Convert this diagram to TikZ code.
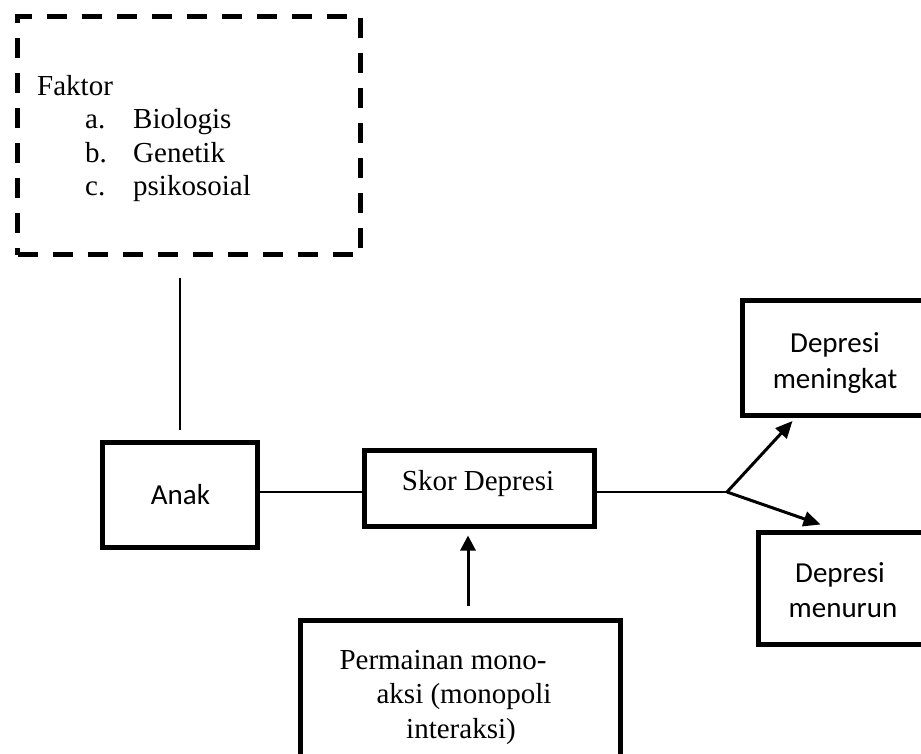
\documentclass[tikz,border=0pt]{standalone}
\usepackage{fontspec}
\setmainfont{Liberation Serif}
\newfontfamily\calfont{Carlito}
\usetikzlibrary{arrows.meta}
\begin{document}
\begin{tikzpicture}[x=1pt,y=-1pt,
  box/.style={draw, line width=5pt, inner sep=0pt},
  dashbox/.style={box, dash pattern=on 20pt off 15pt},
  tnr/.style={font=\fontsize{29}{34}\selectfont, inner sep=0pt, anchor=base},
  cal/.style={font=\calfont\fontsize{29}{34}\selectfont, inner sep=0pt, anchor=base},
  thinline/.style={line width=1.8pt},
  arr/.style={line width=3pt, -{Triangle[length=17pt,width=15pt]}}]
\useasboundingbox (0,0) rectangle (921,753);

% boxes
\node[dashbox, minimum width=343pt, minimum height=238pt] (faktor) at (189,135.5) {};
\node[box, minimum width=155pt, minimum height=105pt] (anak) at (180,495) {};
\node[box, minimum width=230pt, minimum height=76pt] (skor) at (479.5,488.5) {};
\node[box, minimum width=217.5pt, minimum height=115pt] (naik) at (851.25,358) {};
\node[box, minimum width=201.5pt, minimum height=112pt] (turun) at (859.25,588.5) {};
\node[box, minimum width=320pt, minimum height=179.5pt] (perm) at (460.5,710.25) {};

% texts
\node[tnr, anchor=base west] (tF) at (37,95) {Faktor};
\node[tnr, anchor=base west] (ta) at (85,128) {a.};
\node[tnr, anchor=base west] (tbio) at (133,128) {Biologis};
\node[tnr, anchor=base west] (tb) at (85,162) {b.};
\node[tnr, anchor=base west] (tgen) at (133,162) {Genetik};
\node[tnr, anchor=base west] (tc) at (85,195) {c.};
\node[tnr, anchor=base west] (tpsi) at (133,195) {psikosoial};

\node[cal] (tanak) at (180.5,504) {Anak};
\node[tnr] (tskor) at (478,490) {Skor Depresi};
\node[cal] (tn1) at (835,352) {Depresi};
\node[cal] (tn2) at (835,388) {meningkat};
\node[cal] (tt1) at (840,582) {Depresi};
\node[cal] (tt2) at (843,617) {menurun};
\node[tnr] (tp1) at (443,669) {Permainan mono-};
\node[tnr] (tp2) at (464,703) {aksi (monopoli};
\node[tnr] (tp3) at (461,738) {interaksi)};

% connectors
\coordinate (j) at (727,492);
\draw[thinline, shorten <=20.5pt, shorten >=10.5pt] (anak.north |- faktor.south) -- (anak.north);
\draw[thinline] (anak.east |- j) -- (skor.west |- j);
\draw[thinline] (skor.east |- j) -- (j);
\draw[arr, line join=round] (j) -- ([xshift=52.5pt,yshift=-3pt]naik.south west);
\draw[arr, line join=round] (j) -- ([xshift=64.5pt,yshift=5.5pt]turun.north west);
\draw[arr, -{Triangle[length=15pt,width=15pt]}] ([xshift=7.5pt,yshift=12.5pt]perm.north) -- ([xshift=-11.5pt,yshift=-6.5pt]skor.south);
\end{tikzpicture}
\end{document}
